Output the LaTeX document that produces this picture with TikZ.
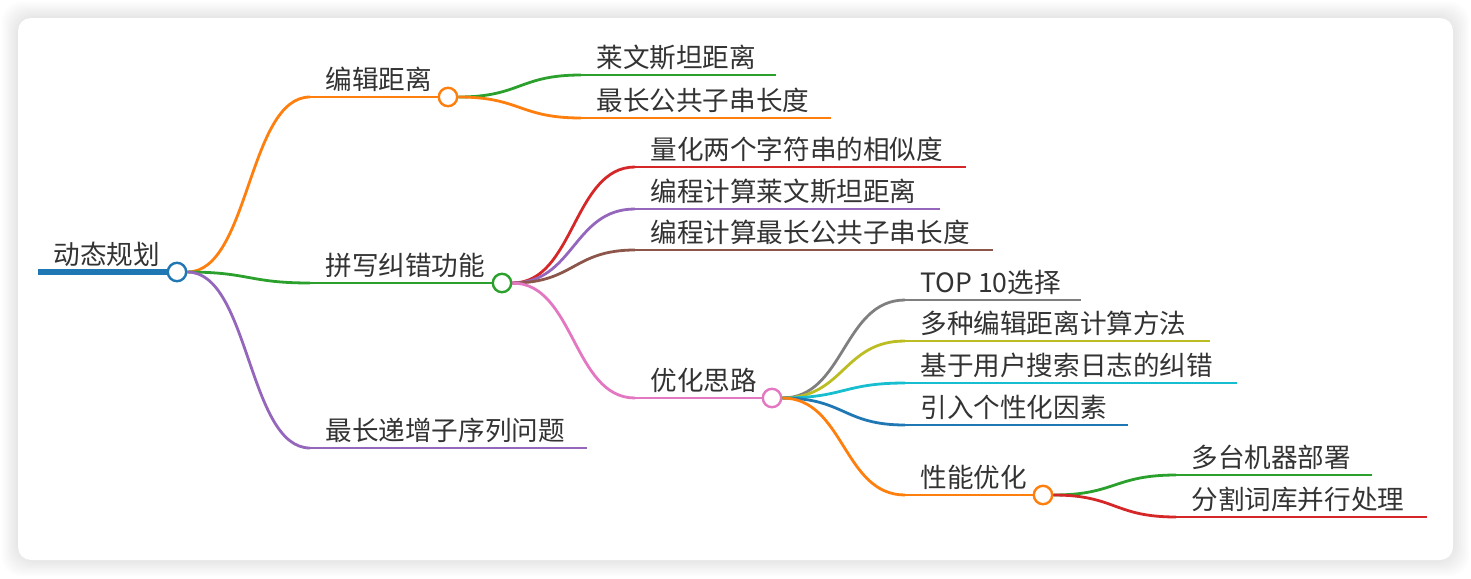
\documentclass[tikz,border=0pt]{standalone}
\usepackage{fontspec}
\setmainfont{Noto Sans CJK SC}

\definecolor{mblue}{RGB}{31,119,180}
\definecolor{morange}{RGB}{255,127,14}
\definecolor{mgreen}{RGB}{44,160,44}
\definecolor{mred}{RGB}{214,39,40}
\definecolor{mpurple}{RGB}{148,103,189}
\definecolor{mbrown}{RGB}{140,86,75}
\definecolor{mpink}{RGB}{227,119,194}
\definecolor{mgray}{RGB}{127,127,127}
\definecolor{molive}{RGB}{188,189,34}
\definecolor{mcyan}{RGB}{23,190,207}
\definecolor{ink}{RGB}{51,51,51}

\tikzset{
    topic/.style={anchor=base west, inner sep=0pt, text=ink, font=\fontsize{13.3pt}{16pt}\selectfont},
    uline/.style={line width=1.4pt},
    link/.style={line width=1.4pt},
    knot/.style={circle, fill=white, line width=1.2pt, minimum size=9.2pt, inner sep=0pt}
}

\begin{document}
\begin{tikzpicture}[x=0.5pt, y=-0.5pt]
\useasboundingbox (0,0) rectangle (1471,578);

% Card with soft shadow
\foreach \s in {2,4,...,16} {
    \fill[black, opacity=0.013, rounded corners=10pt] (18-\s,18-\s) rectangle (1453+\s,560+\s);
}
\fill[white, rounded corners=6.5pt] (18,18) rectangle (1453,560);

% Root
\coordinate (root-s) at (38,272);
\node[topic] (root) at (53,264) {动态规划};
\node[knot, draw=mblue] (root-k) at (177,272) {};
\draw[mblue, line width=3pt] (root-s) -- (root-k.west);

% Edit distance
\coordinate (edit-s) at (310,97);
\node[topic] (edit) at (325,89) {编辑距离};
\node[knot, draw=morange] (edit-k) at (448,97) {};
\draw[uline, morange] (edit-s) -- (edit-k.west);
\draw[link, morange] (root-k.east) .. controls +(62,0) and +(-62,0) .. (edit-s);

\foreach \nm/\yy/\xe/\col/\txt in {lev/75/776/mgreen/莱文斯坦距离, lcs/118/831/morange/最长公共子串长度} {
    \coordinate (\nm-s) at (581,\yy);
    \coordinate (\nm-e) at (\xe,\yy);
    \node[topic] (\nm) at (596,\yy-8) {\txt};
    \draw[uline, \col] (\nm-s) -- (\nm-e);
    \draw[link, \col] (edit-k.east) .. controls +(62,0) and +(-62,0) .. (\nm-s);
}

% Spelling correction
\coordinate (spell-s) at (310,283);
\node[topic] (spell) at (325,275) {拼写纠错功能};
\node[knot, draw=mgreen] (spell-k) at (502,283) {};
\draw[uline, mgreen] (spell-s) -- (spell-k.west);
\draw[link, mgreen] (root-k.east) .. controls +(62,0) and +(-62,0) .. (spell-s);

\foreach \nm/\yy/\xe/\col/\txt in {quant/167/966/mred/量化两个字符串的相似度, plev/209/940/mpurple/编程计算莱文斯坦距离, plcs/250/993/mbrown/编程计算最长公共子串长度} {
    \coordinate (\nm-s) at (635,\yy);
    \coordinate (\nm-e) at (\xe,\yy);
    \node[topic] (\nm) at (650,\yy-8) {\txt};
    \draw[uline, \col] (\nm-s) -- (\nm-e);
    \draw[link, \col] (spell-k.east) .. controls +(62,0) and +(-62,0) .. (\nm-s);
}

% Optimisation ideas
\coordinate (optim-s) at (635,398);
\node[topic] (optim) at (650,390) {优化思路};
\node[knot, draw=mpink] (optim-k) at (772,398) {};
\draw[uline, mpink] (optim-s) -- (optim-k.west);
\draw[link, mpink] (spell-k.east) .. controls +(62,0) and +(-62,0) .. (optim-s);

\foreach \nm/\yy/\xe/\col/\txt in {top/300/1081/mgray/TOP 10选择, multi/341/1210/molive/多种编辑距离计算方法, log/383/1237/mcyan/基于用户搜索日志的纠错, pers/425/1128/mblue/引入个性化因素} {
    \coordinate (\nm-s) at (905,\yy);
    \coordinate (\nm-e) at (\xe,\yy);
    \node[topic] (\nm) at (920,\yy-8) {\txt};
    \draw[uline, \col] (\nm-s) -- (\nm-e);
    \draw[link, \col] (optim-k.east) .. controls +(62,0) and +(-62,0) .. (\nm-s);
}

% Performance
\coordinate (perf-s) at (905,495);
\node[topic] (perf) at (920,487) {性能优化};
\node[knot, draw=morange] (perf-k) at (1043,495) {};
\draw[uline, morange] (perf-s) -- (perf-k.west);
\draw[link, morange] (optim-k.east) .. controls +(62,0) and +(-62,0) .. (perf-s);

\foreach \nm/\yy/\xe/\col/\txt in {deploy/475/1372/mgreen/多台机器部署, split/517/1427/mred/分割词库并行处理} {
    \coordinate (\nm-s) at (1176,\yy);
    \coordinate (\nm-e) at (\xe,\yy);
    \node[topic] (\nm) at (1191,\yy-8) {\txt};
    \draw[uline, \col] (\nm-s) -- (\nm-e);
    \draw[link, \col] (perf-k.east) .. controls +(62,0) and +(-62,0) .. (\nm-s);
}

% Longest increasing subsequence
\coordinate (lis-s) at (310,448);
\coordinate (lis-e) at (587,448);
\node[topic] (lis) at (325,440) {最长递增子序列问题};
\draw[uline, mpurple] (lis-s) -- (lis-e);
\draw[link, mpurple] (root-k.east) .. controls +(62,0) and +(-62,0) .. (lis-s);

\end{tikzpicture}
\end{document}
